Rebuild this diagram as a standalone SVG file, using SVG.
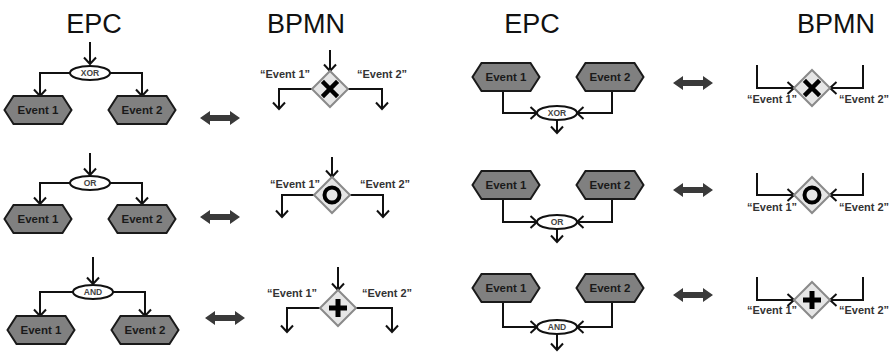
<svg xmlns="http://www.w3.org/2000/svg" width="891" height="353" viewBox="0 0 891 353">
  <style>
    .title { font-family: "Liberation Sans", Arial, sans-serif; font-size: 27px; fill: #111; text-anchor: middle; }
    .hex { fill: #808080; stroke: #1a1a1a; stroke-width: 2; }
    .hext { font-family: "Liberation Sans", Arial, sans-serif; font-size: 11.5px; font-weight: bold; fill: #1a1a1a; text-anchor: middle; }
    .conn { fill: none; stroke: #111; stroke-width: 2; }
    .op { fill: #fff; stroke: #111; stroke-width: 2; }
    .opt { font-family: "Liberation Sans", Arial, sans-serif; font-size: 8.5px; font-weight: bold; fill: #444; text-anchor: middle; }
    .gw { fill: #e6e6e6; stroke: #8a8a8a; stroke-width: 2; }
    .lbl { font-family: "Liberation Sans", Arial, sans-serif; font-size: 11px; font-weight: bold; fill: #333; text-anchor: middle; }
    .dbl { fill: #3a3a3a; }
  </style>
  <defs>
    <marker id="arr" markerUnits="userSpaceOnUse" markerWidth="14" markerHeight="14" viewBox="-8 -7 10 14" refX="0" refY="0" orient="auto">
      <path d="M-6.5,-6 L0,0 L-6.5,6" fill="none" stroke="#111" stroke-width="2"/>
    </marker>
    <polygon id="hexshape" points="-24.5,-14 24.5,-14 33.5,0 24.5,14 -24.5,14 -33.5,0"/>
    <polygon id="diamond" points="0,-18 18,0 0,18 -18,0"/>
    <polygon id="dblarrow" points="0,0 10,-7 10,-3 30,-3 30,-7 40,0 30,7 30,3 10,3 10,7"/>
    <path id="xmark" d="M-6,-6 L6,6 M6,-6 L-6,6" fill="none" stroke="#000" stroke-width="4.5" stroke-linecap="square"/>
    <path id="plusmark" d="M0,-9 V9 M-9,0 H9" fill="none" stroke="#000" stroke-width="5"/>
    <circle id="ringmark" r="7.5" fill="none" stroke="#000" stroke-width="4"/>
  </defs>

  <!-- column headings -->
  <g id="headings">
    <text class="title" x="94" y="33">EPC</text>
    <text class="title" x="306" y="33">BPMN</text>
    <text class="title" x="532" y="33">EPC</text>
    <text class="title" x="836" y="33">BPMN</text>
  </g>

  <!-- connectors -->
  <g id="connectors">
    <!-- split EPC, left column -->
    <path class="conn" d="M90,42 V64" marker-end="url(#arr)"/>
    <path class="conn" d="M70,73 H40 V96" marker-end="url(#arr)"/>
    <path class="conn" d="M110,73 H142 V96" marker-end="url(#arr)"/>
    <path class="conn" d="M90,153 V175" marker-end="url(#arr)"/>
    <path class="conn" d="M70,183 H40 V204" marker-end="url(#arr)"/>
    <path class="conn" d="M110,183 H142 V204" marker-end="url(#arr)"/>
    <path class="conn" d="M93,257 V284" marker-end="url(#arr)"/>
    <path class="conn" d="M73,292 H40 V316" marker-end="url(#arr)"/>
    <path class="conn" d="M113,292 H145 V316" marker-end="url(#arr)"/>

    <!-- split BPMN, left column -->
    <path class="conn" d="M330,50 V71" marker-end="url(#arr)"/>
    <path class="conn" d="M312,89 H279 V109" marker-end="url(#arr)"/>
    <path class="conn" d="M348,89 H382 V109" marker-end="url(#arr)"/>
    <path class="conn" d="M332,157 V177" marker-end="url(#arr)"/>
    <path class="conn" d="M314,195 H282 V217" marker-end="url(#arr)"/>
    <path class="conn" d="M350,195 H383 V217" marker-end="url(#arr)"/>
    <path class="conn" d="M338,267 V290" marker-end="url(#arr)"/>
    <path class="conn" d="M320,308 H287 V332" marker-end="url(#arr)"/>
    <path class="conn" d="M356,308 H392 V332" marker-end="url(#arr)"/>

    <!-- join EPC, right column -->
    <path class="conn" d="M503,91 V113 H537" marker-end="url(#arr)"/>
    <path class="conn" d="M612,91 V113 H577" marker-end="url(#arr)"/>
    <path class="conn" d="M557,120 V133" marker-end="url(#arr)"/>
    <path class="conn" d="M503,199 V222 H537" marker-end="url(#arr)"/>
    <path class="conn" d="M612,199 V222 H577" marker-end="url(#arr)"/>
    <path class="conn" d="M557,229 V242" marker-end="url(#arr)"/>
    <path class="conn" d="M503,302 V327 H537" marker-end="url(#arr)"/>
    <path class="conn" d="M612,302 V327 H577" marker-end="url(#arr)"/>
    <path class="conn" d="M557,334 V350" marker-end="url(#arr)"/>

    <!-- join BPMN, right column -->
    <path class="conn" d="M757,65 V88 H794" marker-end="url(#arr)"/>
    <path class="conn" d="M863,65 V88 H830" marker-end="url(#arr)"/>
    <path class="conn" d="M757,173 V195 H794" marker-end="url(#arr)"/>
    <path class="conn" d="M863,173 V195 H830" marker-end="url(#arr)"/>
    <path class="conn" d="M757,277 V300 H794" marker-end="url(#arr)"/>
    <path class="conn" d="M863,277 V300 H830" marker-end="url(#arr)"/>
  </g>

  <!-- equivalence arrows -->
  <g id="equivalences">
    <use href="#dblarrow" class="dbl" x="200" y="118"/>
    <use href="#dblarrow" class="dbl" x="200" y="217"/>
    <use href="#dblarrow" class="dbl" x="205" y="318"/>
    <use href="#dblarrow" class="dbl" x="673" y="83"/>
    <use href="#dblarrow" class="dbl" x="673" y="190"/>
    <use href="#dblarrow" class="dbl" x="673" y="295"/>
  </g>

  <!-- EPC split, XOR -->
  <g id="epc-xor-split">
    <ellipse class="op" cx="90" cy="73" rx="20" ry="7"/>
    <text class="opt" x="90" y="76">XOR</text>
  </g>
  <g id="epc-xor-split-e1"><use href="#hexshape" class="hex" x="38" y="110"/><text class="hext" x="38" y="114">Event 1</text></g>
  <g id="epc-xor-split-e2"><use href="#hexshape" class="hex" x="142" y="110"/><text class="hext" x="142" y="114">Event 2</text></g>

  <!-- EPC split, OR -->
  <g id="epc-or-split">
    <ellipse class="op" cx="90" cy="183" rx="20" ry="7"/>
    <text class="opt" x="90" y="186">OR</text>
  </g>
  <g id="epc-or-split-e1"><use href="#hexshape" class="hex" x="38" y="219"/><text class="hext" x="38" y="223">Event  1</text></g>
  <g id="epc-or-split-e2"><use href="#hexshape" class="hex" x="142" y="219"/><text class="hext" x="142" y="223">Event  2</text></g>

  <!-- EPC split, AND -->
  <g id="epc-and-split">
    <ellipse class="op" cx="93" cy="292" rx="20" ry="7"/>
    <text class="opt" x="93" y="295">AND</text>
  </g>
  <g id="epc-and-split-e1"><use href="#hexshape" class="hex" x="41" y="330"/><text class="hext" x="41" y="334">Event  1</text></g>
  <g id="epc-and-split-e2"><use href="#hexshape" class="hex" x="145" y="330"/><text class="hext" x="145" y="334">Event  2</text></g>

  <!-- BPMN split gateways -->
  <g id="bpmn-xor-split">
    <use href="#diamond" class="gw" x="330" y="89"/>
    <use href="#xmark" x="330" y="89"/>
    <text class="lbl" x="285" y="78">“Event 1”</text>
    <text class="lbl" x="382" y="78">“Event 2”</text>
  </g>
  <g id="bpmn-or-split">
    <use href="#diamond" class="gw" x="332" y="195"/>
    <use href="#ringmark" x="332" y="195"/>
    <text class="lbl" x="295" y="188">“Event 1”</text>
    <text class="lbl" x="385" y="188">“Event 2”</text>
  </g>
  <g id="bpmn-and-split">
    <use href="#diamond" class="gw" x="338" y="308"/>
    <use href="#plusmark" x="338" y="308"/>
    <text class="lbl" x="292" y="297">“Event 1”</text>
    <text class="lbl" x="387" y="297">“Event 2”</text>
  </g>

  <!-- EPC join, XOR -->
  <g id="epc-xor-join-e1"><use href="#hexshape" class="hex" x="506" y="77"/><text class="hext" x="506" y="81">Event 1</text></g>
  <g id="epc-xor-join-e2"><use href="#hexshape" class="hex" x="610" y="77"/><text class="hext" x="610" y="81">Event 2</text></g>
  <g id="epc-xor-join">
    <ellipse class="op" cx="557" cy="113" rx="20" ry="7"/>
    <text class="opt" x="557" y="116">XOR</text>
  </g>

  <!-- EPC join, OR -->
  <g id="epc-or-join-e1"><use href="#hexshape" class="hex" x="506" y="185"/><text class="hext" x="506" y="189">Event 1</text></g>
  <g id="epc-or-join-e2"><use href="#hexshape" class="hex" x="610" y="185"/><text class="hext" x="610" y="189">Event 2</text></g>
  <g id="epc-or-join">
    <ellipse class="op" cx="557" cy="222" rx="20" ry="7"/>
    <text class="opt" x="557" y="225">OR</text>
  </g>

  <!-- EPC join, AND -->
  <g id="epc-and-join-e1"><use href="#hexshape" class="hex" x="506" y="288"/><text class="hext" x="506" y="292">Event 1</text></g>
  <g id="epc-and-join-e2"><use href="#hexshape" class="hex" x="610" y="288"/><text class="hext" x="610" y="292">Event 2</text></g>
  <g id="epc-and-join">
    <ellipse class="op" cx="557" cy="327" rx="20" ry="7"/>
    <text class="opt" x="557" y="330">AND</text>
  </g>

  <!-- BPMN join gateways -->
  <g id="bpmn-xor-join">
    <use href="#diamond" class="gw" x="812" y="88"/>
    <use href="#xmark" x="812" y="88"/>
    <text class="lbl" x="772" y="103">“Event 1”</text>
    <text class="lbl" x="864" y="103">“Event 2”</text>
  </g>
  <g id="bpmn-or-join">
    <use href="#diamond" class="gw" x="812" y="195"/>
    <use href="#ringmark" x="812" y="195"/>
    <text class="lbl" x="772" y="211">“Event 1”</text>
    <text class="lbl" x="864" y="211">“Event 2”</text>
  </g>
  <g id="bpmn-and-join">
    <use href="#diamond" class="gw" x="812" y="300"/>
    <use href="#plusmark" x="812" y="300"/>
    <text class="lbl" x="772" y="314">“Event 1”</text>
    <text class="lbl" x="864" y="314">“Event 2”</text>
  </g>
</svg>
